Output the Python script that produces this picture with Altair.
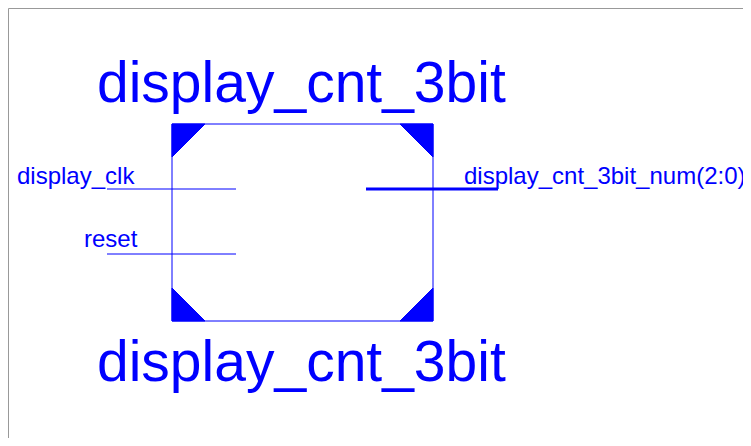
import altair as alt
import pandas as pd

# symbol box and pins, in picture pixels
box_x = [172, 433, 433, 172, 172]
box_y = [124, 124, 321, 321, 124]

corner_names = ["tl", "tr", "bl", "br"]
corner_x = [[172, 205, 172], [400, 433, 433], [172, 172, 205], [433, 433, 400]]
corner_y = [[124, 124, 157], [124, 124, 157], [288, 321, 321], [288, 321, 321]]

pin_names = ["display_clk", "reset", "display_cnt_3bit_num(2:0)"]
pin_x1 = [107, 107, 366]
pin_x2 = [236, 236, 498]
pin_y = [189, 254, 189]
pin_w = [1, 1, 3]

label_text = ["display_clk", "reset", "display_cnt_3bit_num(2:0)"]
label_x = [17, 84, 464]
label_y = [184, 247, 184]

title_text = ["display_cnt_3bit", "display_cnt_3bit"]
title_y = [102, 381]

x_sc = alt.Scale(domain=[8, 743], nice=False, zero=False)
y_sc = alt.Scale(domain=[438, 8], nice=False, zero=False)
X = lambda f: alt.X(f, scale=x_sc, axis=None)
Y = lambda f: alt.Y(f, scale=y_sc, axis=None)

box = alt.Chart(pd.DataFrame({"x": box_x, "y": box_y, "i": range(5)})).mark_line(
    color="#0000ff", strokeWidth=1).encode(x=X("x:Q"), y=Y("y:Q"), order="i:Q")

rows = []
for n, xs, ys in zip(corner_names, corner_x, corner_y):
    for i, (a, b) in enumerate(zip(xs + [xs[0]], ys + [ys[0]])):
        rows.append({"c": n, "x": a, "y": b, "i": i})
corners = alt.Chart(pd.DataFrame(rows)).mark_line(
    color="#0000ff", fill="#0000ff", strokeWidth=1).encode(
    x=X("x:Q"), y=Y("y:Q"), detail="c:N", order="i:Q")

pins = alt.Chart(pd.DataFrame({"n": pin_names, "x": pin_x1, "x2": pin_x2, "y": pin_y, "w": pin_w})).mark_rule(
    color="#0000ff").encode(x=X("x:Q"), x2="x2:Q", y=Y("y:Q"),
                            strokeWidth=alt.StrokeWidth("w:Q", scale=None, legend=None))

labels = alt.Chart(pd.DataFrame({"t": label_text, "x": label_x, "y": label_y})).mark_text(
    color="#0000ff", font="Liberation Sans", fontSize=24, align="left", baseline="alphabetic").encode(
    x=X("x:Q"), y=Y("y:Q"), text="t:N")

titles = alt.Chart(pd.DataFrame({"t": title_text, "y": title_y})).mark_text(
    color="#0000ff", font="Liberation Sans", fontSize=57, align="left", baseline="alphabetic").encode(
    x=alt.value(97 - 8), y=Y("y:Q"), text="t:N")

chart = alt.layer(box, corners, pins, labels, titles).properties(
    width=735, height=430, padding=0, autosize=alt.AutoSizeParams(type="none")
).configure_view(stroke="#999999", strokeWidth=1)

chart.save("out.html", embed_options={"renderer": "svg", "actions": False})
